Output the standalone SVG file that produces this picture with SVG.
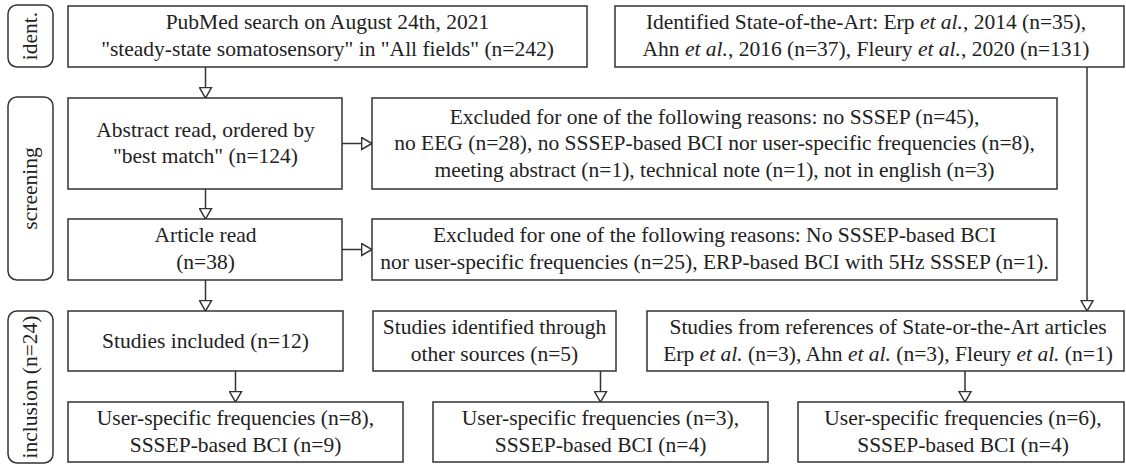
<svg xmlns="http://www.w3.org/2000/svg" width="1126" height="464" viewBox="0 0 1126 464">
<style>
  .box { fill: #ffffff; stroke: #333333; stroke-width: 1.5; }
  .side { fill: #ffffff; stroke: #333333; stroke-width: 1.5; }
  .t { font-family: "Liberation Serif", "Times New Roman", serif; font-size: 21.5px; fill: #222222; text-anchor: middle; }
  .i { font-style: italic; }
  .conn { stroke: #333333; stroke-width: 1.5; fill: none; marker-end: url(#arr); }
</style>
<defs>
  <marker id="arr" markerUnits="userSpaceOnUse" viewBox="0 0 12 14" refX="11.2" refY="7" markerWidth="12" markerHeight="14" orient="auto">
    <path d="M0.8,1 L11.2,7 L0.8,13 Z" fill="#ffffff" stroke="#333333" stroke-width="1.5"/>
  </marker>
</defs>
<rect width="1126" height="464" fill="#ffffff"/>

<g id="label-ident">
  <rect class="side" x="8" y="5" width="45" height="62" rx="9"/>
  <text class="t" transform="translate(37,36) rotate(-90)">ident.</text>
</g>
<g id="label-screening">
  <rect class="side" x="8" y="97" width="45" height="183" rx="9"/>
  <text class="t" transform="translate(37,188.5) rotate(-90)">screening</text>
</g>
<g id="label-inclusion">
  <rect class="side" x="8" y="311" width="45" height="152" rx="9"/>
  <text class="t" transform="translate(37,387) rotate(-90)">inclusion (n=24)</text>
</g>

<g id="connectors">
  <line class="conn" x1="205.5" y1="67" x2="205.5" y2="98"/>
  <line class="conn" x1="342" y1="143.5" x2="372" y2="143.5"/>
  <line class="conn" x1="205.5" y1="189" x2="205.5" y2="219"/>
  <line class="conn" x1="342" y1="249.5" x2="372" y2="249.5"/>
  <line class="conn" x1="205.5" y1="280" x2="205.5" y2="311"/>
  <line class="conn" x1="1087" y1="67" x2="1087" y2="311"/>
  <line class="conn" x1="235.5" y1="371" x2="235.5" y2="402"/>
  <line class="conn" x1="600.5" y1="371" x2="600.5" y2="402"/>
  <line class="conn" x1="965" y1="371" x2="965" y2="402"/>
</g>

<g id="pubmed">
  <rect class="box" x="68" y="6" width="519" height="61"/>
  <text class="t" x="327.5" y="29">PubMed search on August 24th, 2021</text>
  <text class="t" x="327.5" y="55.5">"steady-state somatosensory" in "All fields" (n=242)</text>
</g>
<g id="sota">
  <rect class="box" x="615" y="6" width="509" height="61"/>
  <text class="t" x="866" y="29">Identified State-of-the-Art: Erp <tspan class="i">et al.</tspan>, 2014 (n=35),</text>
  <text class="t" x="866" y="55.5">Ahn <tspan class="i">et al.</tspan>, 2016 (n=37), Fleury <tspan class="i">et al.</tspan>, 2020 (n=131)</text>
</g>
<g id="abstract">
  <rect class="box" x="68" y="98" width="274" height="91"/>
  <text class="t" x="205.5" y="136.5">Abstract read, ordered by</text>
  <text class="t" x="205.5" y="163">"best match" (n=124)</text>
</g>
<g id="excluded1">
  <rect class="box" x="372" y="98" width="685" height="91"/>
  <text class="t" x="714.5" y="123.6">Excluded for one of the following reasons: no SSSEP (n=45),</text>
  <text class="t" x="714.5" y="150.1">no EEG (n=28), no SSSEP-based BCI nor user-specific frequencies (n=8),</text>
  <text class="t" x="714.5" y="176.6">meeting abstract (n=1), technical note (n=1), not in english (n=3)</text>
</g>
<g id="article">
  <rect class="box" x="68" y="219" width="274" height="61"/>
  <text class="t" x="205.5" y="242">Article read</text>
  <text class="t" x="205.5" y="268.5">(n=38)</text>
</g>
<g id="excluded2">
  <rect class="box" x="372" y="219" width="685" height="61"/>
  <text class="t" x="714.5" y="242">Excluded for one of the following reasons: No SSSEP-based BCI</text>
  <text class="t" x="714.5" y="268.5">nor user-specific frequencies (n=25), ERP-based BCI with 5Hz SSSEP (n=1).</text>
</g>
<g id="included">
  <rect class="box" x="68" y="311" width="275" height="60"/>
  <text class="t" x="205.5" y="347.7">Studies included (n=12)</text>
</g>
<g id="other-sources">
  <rect class="box" x="373" y="311" width="243" height="60"/>
  <text class="t" x="494.5" y="334">Studies identified through</text>
  <text class="t" x="494.5" y="360.5">other sources (n=5)</text>
</g>
<g id="references">
  <rect class="box" x="647" y="311" width="477" height="60"/>
  <text class="t" x="888" y="334">Studies from references of State-or-the-Art articles</text>
  <text class="t" x="888" y="360.5">Erp <tspan class="i">et al.</tspan> (n=3), Ahn <tspan class="i">et al.</tspan> (n=3), Fleury <tspan class="i">et al.</tspan> (n=1)</text>
</g>
<g id="result-a">
  <rect class="box" x="68" y="402" width="335" height="60"/>
  <text class="t" x="235.5" y="425">User-specific frequencies (n=8),</text>
  <text class="t" x="235.5" y="451.5">SSSEP-based BCI (n=9)</text>
</g>
<g id="result-b">
  <rect class="box" x="433" y="402" width="335" height="60"/>
  <text class="t" x="600.5" y="425">User-specific frequencies (n=3),</text>
  <text class="t" x="600.5" y="451.5">SSSEP-based BCI (n=4)</text>
</g>
<g id="result-c">
  <rect class="box" x="798" y="402" width="326" height="60"/>
  <text class="t" x="963" y="425">User-specific frequencies (n=6),</text>
  <text class="t" x="963" y="451.5">SSSEP-based BCI (n=4)</text>
</g>
</svg>
